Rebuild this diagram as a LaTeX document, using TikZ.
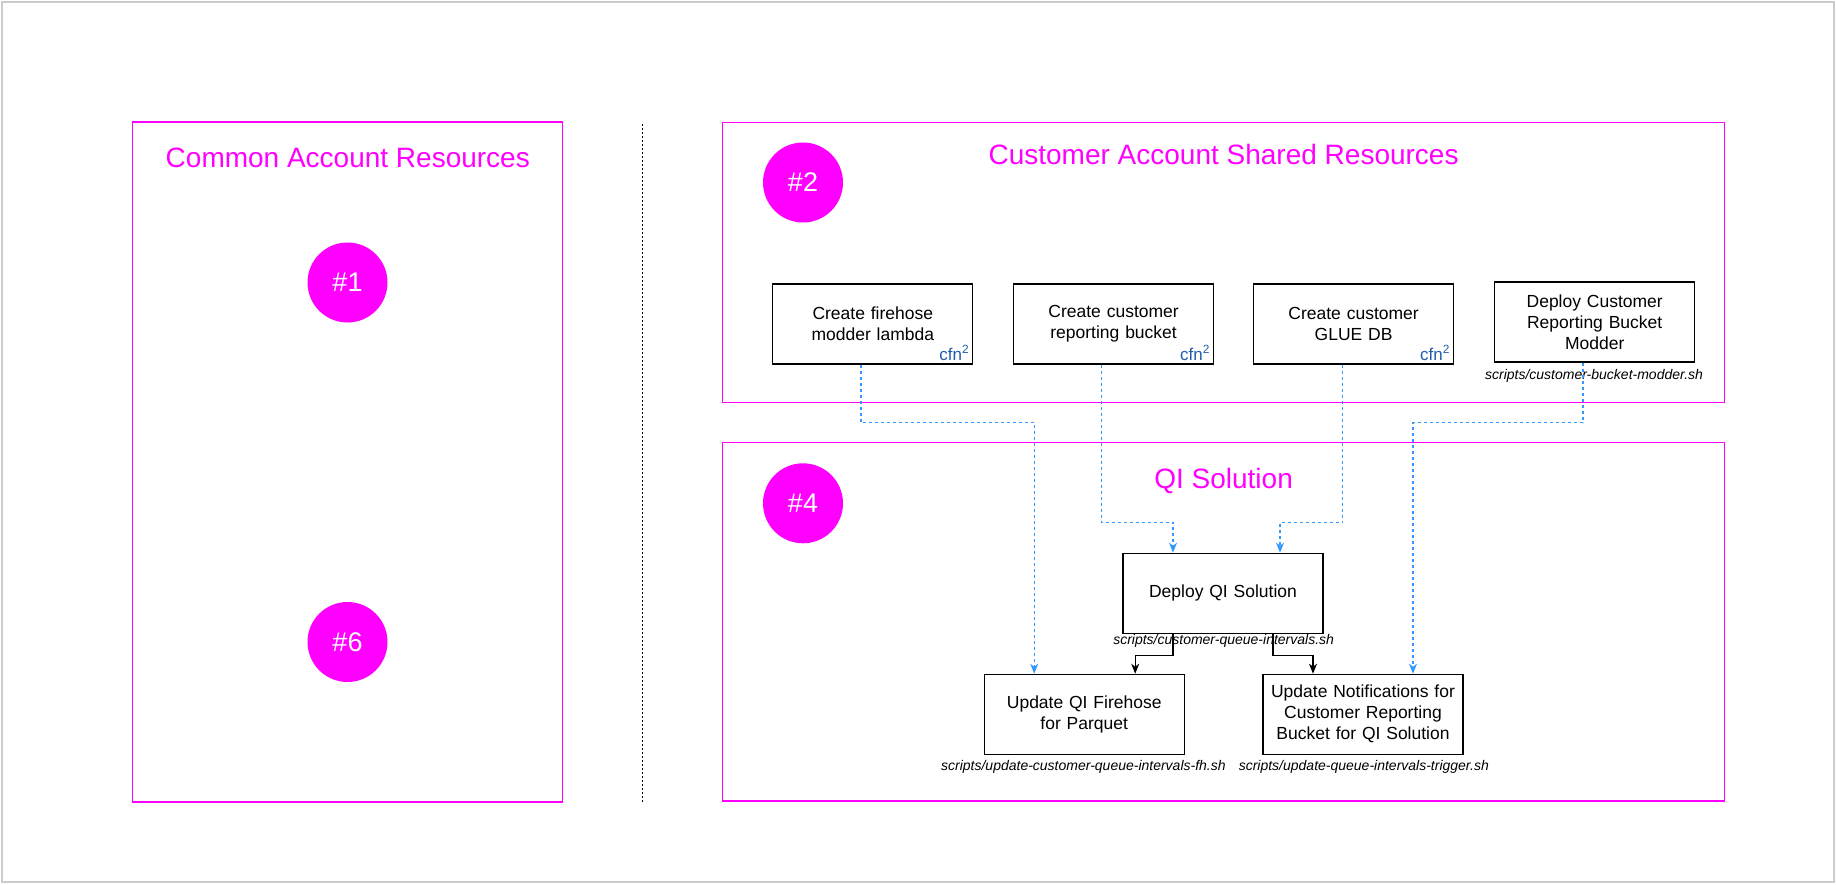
\documentclass[tikz,border=0pt]{standalone}
\usepackage{fontspec}
\setmainfont{Liberation Sans}
\usetikzlibrary{arrows.meta}
\definecolor{mag}{HTML}{FF00FF}
\definecolor{dblue}{HTML}{3399FF}
\definecolor{cfnblue}{HTML}{1F5FA8}
\definecolor{frame}{HTML}{CCCCCC}
\tikzset{
  group/.style={draw=mag, line width=1.2pt},
  grouptitle/.style={text=mag, font=\fontsize{28}{33}\selectfont, inner sep=0pt},
  badge/.style={circle, fill=mag, minimum size=80pt, inner sep=0pt, text=white, font=\fontsize{27}{32}\selectfont},
  stepbox/.style={draw=black, line width=1.2pt, minimum width=200pt, minimum height=80pt, inner sep=2pt, align=center, text width=192pt, font=\fontsize{17.5}{21}\selectfont},
  scriptlbl/.style={font=\fontsize{14}{16}\selectfont\itshape, inner sep=0pt},
  cfn/.style={text=cfnblue, font=\fontsize{17}{19}\selectfont, inner sep=0pt, anchor=south east},
  dep/.style={draw=dblue, line width=1.1pt, dash pattern=on 3pt off 3pt, -{Stealth[length=10pt,width=8pt,inset=3pt]}},
  flow/.style={draw=black, line width=1.1pt, -{Stealth[length=10pt,width=8pt,inset=3pt]}},
}
\begin{document}
\begin{tikzpicture}[x=1pt, y=-1pt]
\useasboundingbox (0,0) rectangle (1836,885);
\draw[frame, line width=1.2pt] (2,2) rectangle (1834,882);

% left group
\draw[group] (132.6,122) rectangle (562.5,802);
\node[grouptitle] (tcommon) at (347.8,158) {Common Account Resources};
\node[badge] (n1) at (347.5,282.5) {\#1};
\node[badge] (n6) at (347.5,642) {\#6};

% divider
\coordinate (divtop) at (642.4,124);
\coordinate (divbot) at (642.4,802);
\draw[black, line width=1pt, dash pattern=on 2pt off 2pt] (divtop) -- (divbot);

% top group
\draw[group] (722.5,122.3) rectangle (1724.7,402.3);
\node[grouptitle] (tshared) at (1223.6,154) {Customer Account Shared Resources};
\node[badge] (n2) at (803,182.5) {\#2};

\node[stepbox] (b1) at (872.8,324) {Create firehose\\modder lambda};
\node[stepbox] (b2) at (1113.6,324) {Create customer\\reporting bucket};
\node[stepbox] (b3) at (1353.6,324) {Create customer\\GLUE DB};
\node[stepbox] (b4) at (1594.7,322) {Deploy Customer\\Reporting Bucket\\Modder};
\node[cfn] (c1) at ([xshift=-4pt,yshift=4pt]b1.south east) {cfn\textsuperscript{2}};
\node[cfn] (c2) at ([xshift=-4pt,yshift=4pt]b2.south east) {cfn\textsuperscript{2}};
\node[cfn] (c3) at ([xshift=-4pt,yshift=4pt]b3.south east) {cfn\textsuperscript{2}};
\node[scriptlbl] (s4) at (1594,376) {scripts/customer-bucket-modder.sh};

% bottom group
\draw[group] (722.5,442.3) rectangle (1724.7,801);
\node[grouptitle] (tqi) at (1223.6,480.7) {QI Solution};
\node[badge] (n4) at (803,503.3) {\#4};

\node[stepbox] (dq) at (1223,593.3) {Deploy QI Solution};
\node[scriptlbl] (sdq) at (1223.6,641) {scripts/customer-queue-intervals.sh};
\node[stepbox] (fh) at (1084.2,714.3) {Update QI Firehose\\for Parquet};
\node[scriptlbl] (sfh) at (1083.4,767.3) {scripts/update-customer-queue-intervals-fh.sh};
\node[stepbox] (nt) at (1363,714.3) {Update Notifications for\\Customer Reporting\\Bucket for QI Solution};
\node[scriptlbl] (snt) at (1363.8,767.3) {scripts/update-queue-intervals-trigger.sh};

% dependencies (dashed blue)
\draw[dep] ([xshift=-11.8pt]b1.south) -- ++(0,58) -| ([xshift=-50pt]fh.north);
\draw[dep] ([xshift=-12pt]b2.south) -- ++(0,158) -| ([xshift=-50pt]dq.north);
\draw[dep] ([xshift=-11pt]b3.south) -- ++(0,158) -| ([xshift=57pt]dq.north);
\draw[dep] ([xshift=-11.7pt]b4.south) -- ++(0,60) -| ([xshift=50pt]nt.north);

% flow (solid)
\draw[flow] ([xshift=-50pt]dq.south) -- ++(0,21.7) -| ([xshift=51pt]fh.north);
\draw[flow] ([xshift=50pt]dq.south) -- ++(0,21.7) -| ([xshift=-50pt]nt.north);
\end{tikzpicture}
\end{document}
